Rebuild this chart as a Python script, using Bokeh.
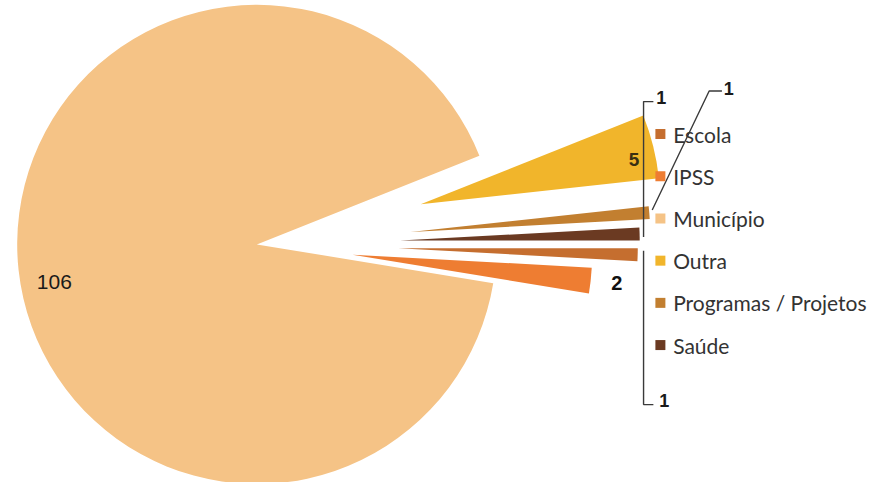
import math
from bokeh.plotting import figure
from bokeh.models import ColumnDataSource
from bokeh.core.properties import value
from bokeh.embed import file_html
from bokeh.resources import INLINE

# ---- data ----
categories = ["Escola", "IPSS", "Município", "Outra", "Programas / Projetos", "Saúde"]
counts = [1, 2, 106, 5, 1, 1]

# ---- styles ----
colors = {
    "Escola": "#C56E2F",
    "IPSS": "#EE7D32",
    "Município": "#F5C386",
    "Outra": "#F1B52B",
    "Programas / Projetos": "#C27F30",
    "Saúde": "#6B3A22",
}
explode = {"Escola": 144, "IPSS": 98, "Município": 0, "Outra": 172,
           "Programas / Projetos": 157, "Saúde": 146}
W, H = 872, 482          # canvas size in px
VX, VY = 888, 498        # drawing space (reference layout units)
CX, CY, R = 261, 246, 244
START_DEG = 0.0  # first slice starts at 3 o'clock, going clockwise

p = figure(width=W, height=H, x_range=(0, VX), y_range=(0, VY),
           output_backend="svg", toolbar_location=None, min_border=0)
p.axis.visible = False
p.grid.visible = False
p.outline_line_color = None
p.background_fill_color = "white"
p.border_fill_color = "white"

total = float(sum(counts))
xs, ys, starts, ends, fills = [], [], [], [], []
a = START_DEG
geom = {}
for cat, v in zip(categories, counts):
    span = v / total * 360.0
    a_end = a - span  # clockwise
    mid = math.radians((a + a_end) / 2.0)
    ex = explode[cat]
    cx = CX + ex * math.cos(mid)
    cy = CY + ex * math.sin(mid)
    xs.append(cx)
    ys.append(cy)
    starts.append(math.radians(a_end))
    ends.append(math.radians(a))
    fills.append(colors[cat])
    geom[cat] = (cx, cy, mid)
    a = a_end

src = ColumnDataSource(dict(x=xs, y=ys, s=starts, e=ends, c=fills))
p.wedge(x="x", y="y", radius=R, start_angle="s", end_angle="e",
        fill_color="c", line_color=None, source=src)

lab_font = value("Liberation Sans")

def polar(cat, rfac, dang_deg=0.0):
    cx, cy, mid = geom[cat]
    ang = mid + math.radians(dang_deg)
    return cx + rfac * R * math.cos(ang), cy + rfac * R * math.sin(ang)

# labels placed relative to their slice
inner_labels = [("Município", 0.86, 4.5, "normal", "21px", "#1a1a1a"),
                ("Outra", 0.91, -2.0, "bold", "19px", "#3a2f12"),
                ("IPSS", 1.11, 0.0, "bold", "20px", "#111111")]
for cat, rf, da, st, sz, col in inner_labels:
    x, y = polar(cat, rf, da)
    p.text(x=[x], y=[y], text=[str(counts[categories.index(cat)])],
           text_font=lab_font, text_font_size=sz, text_font_style=st,
           text_color=col, text_align="center", text_baseline="middle")

# leader-line labels (anchor at slice outer edge; offsets in layout units)
leader_labels = {
    "Saúde": [(4, -3), (4, 137), (14, 137), (22, 141)],
    "Escola": [(6, 4), (6, -155), (16, -155), (27, -151)],
    "Programas / Projetos": [(3, 3), (61, 126), (74, 126), (81, 129)],
}
for cat, pts in leader_labels.items():
    ax, ay = polar(cat, 1.0)
    line_x = [ax + dx for dx, dy in pts[:-1]]
    line_y = [ay + dy for dx, dy in pts[:-1]]
    p.line(line_x, line_y, line_color="#3a3a3a", line_width=1.4)
    tx, ty = ax + pts[-1][0], ay + pts[-1][1]
    p.text(x=[tx], y=[ty], text=[str(counts[categories.index(cat)])],
           text_font=lab_font, text_font_size="18px", text_font_style="bold",
           text_color="#1a1a1a", text_align="center", text_baseline="middle")

# legend
LEG_X, LEG_Y0, LEG_DY = 672, 360, 43.6
leg_src = ColumnDataSource(dict(
    x=[LEG_X] * len(categories),
    tx=[LEG_X + 13] * len(categories),
    y=[LEG_Y0 - i * LEG_DY for i in range(len(categories))],
    c=[colors[c] for c in categories],
    t=categories,
))
p.scatter(x="x", y="y", marker="square", size=10, fill_color="c",
          line_color=None, source=leg_src)
p.text(x="tx", y="y", text="t", source=leg_src, text_font=value("Lato"),
       text_font_size="21px", text_color="#333333", text_baseline="middle",
       text_align="left")

open("out.html", "w").write(file_html(p, INLINE))
